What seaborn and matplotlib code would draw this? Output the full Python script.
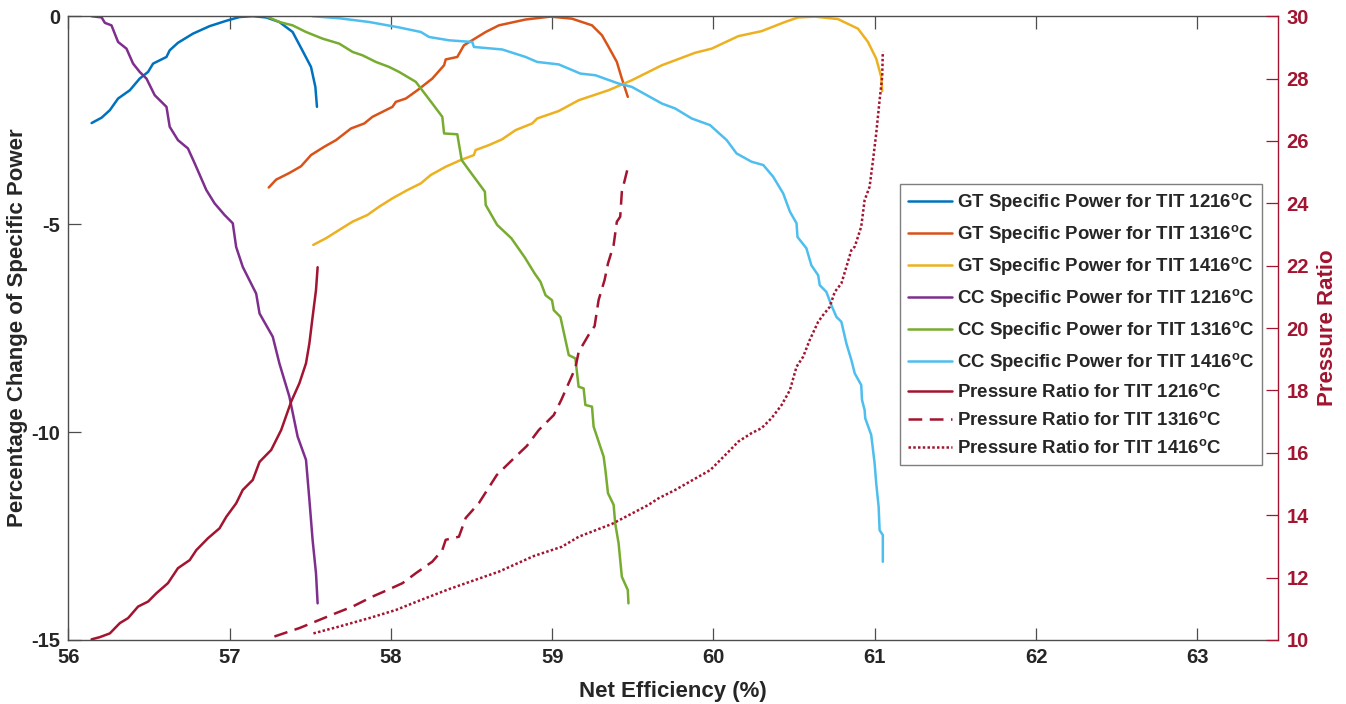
"""
Net efficiency vs. specific power change and pressure ratio for three TIT values.
"""

import seaborn as sns
import matplotlib.pyplot as plt

# ---------------- data ----------------
gt1216_eff = [56.145, 56.207, 56.258, 56.309, 56.382, 56.443, 56.495, 56.526, 56.609, 56.629,
              56.680, 56.773, 56.876, 56.980, 57.062, 57.144, 57.227, 57.309, 57.391, 57.451,
              57.505, 57.532, 57.542]
gt1216_pow = [-2.57, -2.44, -2.26, -1.98, -1.78, -1.50, -1.34, -1.14, -0.98, -0.82,
              -0.64, -0.42, -0.24, -0.11, -0.02, 0.0, -0.03, -0.14, -0.38, -0.82,
              -1.22, -1.70, -2.18]

gt1316_eff = [57.243, 57.289, 57.371, 57.443, 57.505, 57.587, 57.660, 57.753, 57.835, 57.886,
              58.010, 58.031, 58.093, 58.165, 58.257, 58.330, 58.340, 58.412, 58.453, 58.588,
              58.670, 58.835, 58.989, 59.123, 59.247, 59.309, 59.350, 59.401, 59.432, 59.469]
gt1316_pow = [-4.12, -3.93, -3.77, -3.61, -3.34, -3.14, -2.98, -2.70, -2.58, -2.42,
              -2.18, -2.06, -1.98, -1.78, -1.50, -1.18, -1.04, -0.98, -0.70, -0.38,
              -0.22, -0.08, -0.01, -0.06, -0.22, -0.46, -0.74, -1.10, -1.50, -1.94]

gt1416_eff = [57.519, 57.598, 57.680, 57.763, 57.855, 57.928, 58.010, 58.103, 58.186, 58.247,
              58.340, 58.433, 58.515, 58.525, 58.608, 58.690, 58.773, 58.876, 58.907, 59.041,
              59.165, 59.350, 59.422, 59.494, 59.680, 59.886, 59.989, 60.154, 60.298, 60.443,
              60.525, 60.628, 60.772, 60.896, 60.958, 61.009, 61.040, 61.046]
gt1416_pow = [-5.50, -5.34, -5.14, -4.94, -4.78, -4.58, -4.38, -4.18, -4.02, -3.82,
              -3.62, -3.46, -3.34, -3.22, -3.10, -2.96, -2.74, -2.58, -2.46, -2.28,
              -2.02, -1.78, -1.66, -1.54, -1.18, -0.88, -0.78, -0.48, -0.36, -0.14,
              -0.03, -0.01, -0.07, -0.30, -0.62, -1.02, -1.46, -1.80]

cc1216_eff = [56.145, 56.207, 56.227, 56.268, 56.309, 56.361, 56.402, 56.443, 56.485, 56.536,
              56.609, 56.629, 56.680, 56.742, 56.784, 56.856, 56.907, 56.969, 57.020, 57.041,
              57.082, 57.165, 57.186, 57.268, 57.309, 57.371, 57.422, 57.474, 57.495, 57.515,
              57.536, 57.546]
cc1216_pow = [0.0, -0.03, -0.16, -0.22, -0.62, -0.78, -1.14, -1.34, -1.50, -1.90,
              -2.18, -2.66, -2.98, -3.18, -3.54, -4.18, -4.50, -4.78, -4.98, -5.55,
              -6.03, -6.67, -7.15, -7.71, -8.35, -9.15, -10.11, -10.67, -11.63, -12.60,
              -13.40, -14.12]

cc1316_eff = [57.227, 57.309, 57.391, 57.474, 57.577, 57.680, 57.763, 57.824, 57.907, 57.989,
              58.051, 58.155, 58.257, 58.319, 58.330, 58.412, 58.439, 58.484, 58.583, 58.588,
              58.659, 58.747, 58.830, 58.892, 58.928, 58.959, 58.999, 59.010, 59.051, 59.103,
              59.144, 59.164, 59.195, 59.206, 59.247, 59.257, 59.319, 59.330, 59.346, 59.381,
              59.391, 59.412, 59.432, 59.469, 59.473]
cc1316_pow = [0.0, -0.14, -0.22, -0.38, -0.54, -0.66, -0.86, -0.94, -1.10, -1.22,
              -1.34, -1.58, -2.10, -2.42, -2.82, -2.84, -3.46, -3.70, -4.22, -4.54,
              -5.02, -5.34, -5.80, -6.19, -6.39, -6.71, -6.83, -7.07, -7.23, -8.15,
              -8.23, -8.91, -8.95, -9.35, -9.39, -9.87, -10.59, -10.91, -11.47, -11.75,
              -12.20, -12.68, -13.48, -13.80, -14.12]

cc1416_eff = [57.513, 57.680, 57.866, 58.051, 58.186, 58.237, 58.361, 58.505, 58.515, 58.690,
              58.835, 58.907, 59.041, 59.175, 59.268, 59.412, 59.494, 59.680, 59.763, 59.865,
              59.979, 60.082, 60.143, 60.236, 60.309, 60.370, 60.432, 60.474, 60.515, 60.521,
              60.576, 60.607, 60.649, 60.659, 60.700, 60.731, 60.762, 60.793, 60.824, 60.855,
              60.876, 60.916, 60.921, 60.937, 60.941, 60.978, 60.999, 61.009, 61.024, 61.030,
              61.050, 61.050]
cc1416_pow = [0.0, -0.05, -0.14, -0.27, -0.38, -0.50, -0.58, -0.62, -0.74, -0.80,
              -0.98, -1.10, -1.16, -1.38, -1.42, -1.62, -1.70, -2.10, -2.22, -2.46,
              -2.62, -2.98, -3.30, -3.50, -3.58, -3.86, -4.26, -4.70, -4.98, -5.31,
              -5.58, -5.99, -6.23, -6.47, -6.63, -6.95, -7.23, -7.35, -7.87, -8.27,
              -8.59, -8.87, -9.23, -9.47, -9.67, -10.07, -10.75, -11.23, -11.80, -12.36,
              -12.48, -13.12]

pr1216_eff = [56.145, 56.196, 56.258, 56.320, 56.371, 56.433, 56.495, 56.547, 56.618, 56.680,
              56.753, 56.794, 56.866, 56.938, 56.980, 57.041, 57.082, 57.144, 57.186, 57.258,
              57.320, 57.382, 57.433, 57.474, 57.495, 57.515, 57.536, 57.546]
pr1216_pr = [10.02, 10.09, 10.21, 10.54, 10.70, 11.07, 11.23, 11.50, 11.82, 12.30,
             12.56, 12.88, 13.26, 13.58, 13.95, 14.38, 14.81, 15.13, 15.71, 16.09,
             16.73, 17.64, 18.23, 18.87, 19.51, 20.36, 21.22, 21.95]

pr1316_eff = [57.278, 57.433, 57.556, 57.660, 57.763, 57.886, 57.979, 58.072, 58.155, 58.257,
              58.319, 58.340, 58.422, 58.464, 58.546, 58.657, 58.752, 58.843, 58.917, 59.010,
              59.056, 59.144, 59.164, 59.226, 59.263, 59.288, 59.325, 59.346, 59.381, 59.401,
              59.422, 59.432, 59.473]
pr1316_pr = [10.11, 10.38, 10.64, 10.86, 11.07, 11.39, 11.60, 11.82, 12.14, 12.51,
             12.88, 13.21, 13.31, 13.91, 14.39, 15.29, 15.77, 16.22, 16.73, 17.21,
             17.69, 18.72, 19.23, 19.78, 20.06, 20.90, 21.54, 22.07, 22.66, 23.41,
             23.57, 24.37, 25.22]

pr1416_eff = [57.520, 57.680, 57.866, 58.031, 58.186, 58.361, 58.515, 58.670, 58.886, 59.061,
              59.165, 59.371, 59.597, 59.659, 59.763, 59.981, 60.104, 60.154, 60.236, 60.298,
              60.360, 60.422, 60.474, 60.515, 60.556, 60.597, 60.649, 60.680, 60.721, 60.752,
              60.793, 60.824, 60.855, 60.876, 60.916, 60.937, 60.968, 60.989, 61.009, 61.030,
              61.046, 61.050]
pr1416_pr = [10.21, 10.43, 10.70, 10.96, 11.28, 11.63, 11.91, 12.19, 12.69, 12.99,
             13.31, 13.72, 14.33, 14.54, 14.81, 15.45, 16.09, 16.36, 16.63, 16.79,
             17.11, 17.53, 18.01, 18.76, 19.08, 19.62, 20.20, 20.42, 20.68, 21.16,
             21.43, 21.96, 22.50, 22.61, 23.25, 24.10, 24.53, 25.38, 26.24, 27.31,
             28.05, 28.86]

deg = r"$^{\mathrm{o}}$C"
power_series = [
    (gt1216_eff, gt1216_pow, "#0072BD", "GT Specific Power for TIT 1216" + deg),
    (gt1316_eff, gt1316_pow, "#D95319", "GT Specific Power for TIT 1316" + deg),
    (gt1416_eff, gt1416_pow, "#EDB120", "GT Specific Power for TIT 1416" + deg),
    (cc1216_eff, cc1216_pow, "#7E2F8E", "CC Specific Power for TIT 1216" + deg),
    (cc1316_eff, cc1316_pow, "#77AC30", "CC Specific Power for TIT 1316" + deg),
    (cc1416_eff, cc1416_pow, "#4DBEEE", "CC Specific Power for TIT 1416" + deg),
]
pr_color = "#A2142F"
pr_series = [
    (pr1216_eff, pr1216_pr, "-", "Pressure Ratio for TIT 1216" + deg),
    (pr1316_eff, pr1316_pr, (0, (5.5, 3)), "Pressure Ratio for TIT 1316" + deg),
    (pr1416_eff, pr1416_pr, (0, (1, 0.9)), "Pressure Ratio for TIT 1416" + deg),
]

# ---------------- style ----------------
sns.set_style("ticks")
plt.rcParams["font.family"] = ["Liberation Sans", "DejaVu Sans"]
plt.rcParams["font.weight"] = "bold"
plt.rcParams["axes.unicode_minus"] = False
plt.rcParams["mathtext.fontset"] = "custom"
plt.rcParams["mathtext.rm"] = "Liberation Sans:bold"
plt.rcParams["mathtext.bf"] = "Liberation Sans:bold"

fig, ax = plt.subplots(figsize=(13.46, 7.04), dpi=100)
fig.subplots_adjust(left=0.0507, right=0.9495, bottom=0.091, top=0.977)
ax2 = ax.twinx()

lw = 1.8
for eff, pw, col, lab in power_series:
    sns.lineplot(x=eff, y=pw, sort=False, estimator=None, color=col, lw=lw,
                 label=lab, ax=ax)
for eff, pr, ls, lab in pr_series:
    sns.lineplot(x=eff, y=pr, sort=False, estimator=None, color=pr_color, lw=lw,
                 linestyle=ls, label=lab, ax=ax2)

for a in (ax, ax2):
    if a.get_legend() is not None:
        a.get_legend().remove()

ax.set_xlim(56, 63.5)
ax.set_ylim(-15, 0)
ax2.set_ylim(10, 30)
ax.set_xticks(range(56, 64))
ax.set_yticks([-15, -10, -5, 0])
ax2.set_yticks(range(10, 31, 2))

axis_gray = "#4d4d4d"
for side in ("left", "bottom", "top"):
    ax.spines[side].set_color(axis_gray)
    ax.spines[side].set_linewidth(1.0)
ax.spines["right"].set_visible(False)
for side in ("left", "bottom", "top"):
    ax2.spines[side].set_visible(False)
ax2.spines["right"].set_color(pr_color)
ax2.spines["right"].set_linewidth(1.0)

ax.tick_params(axis="both", direction="in", length=9, width=0.9, color=axis_gray,
               labelsize=14.5, top=True, right=False, pad=6)
ax2.tick_params(axis="y", direction="in", length=9, width=0.9, colors=pr_color,
                labelsize=14.5, pad=6)
for t in ax2.get_yticklabels():
    t.set_fontweight("bold")

ax.set_xlabel("Net Efficiency (%)", fontsize=16, fontweight="bold", labelpad=10)
ax.set_ylabel("Percentage Change of Specific Power", fontsize=16, fontweight="bold",
              labelpad=2)
ax2.set_ylabel("Pressure Ratio", fontsize=16, fontweight="bold", color=pr_color,
               labelpad=6)

h1, l1 = ax.get_legend_handles_labels()
h2, l2 = ax2.get_legend_handles_labels()
leg = ax2.legend(h1 + h2, l1 + l2, loc="center right", bbox_to_anchor=(0.987, 0.506),
                 fontsize=13.4, frameon=True, fancybox=False, framealpha=1,
                 edgecolor="#7f7f7f", handlelength=2.4, handletextpad=0.25,
                 labelspacing=0.5, borderpad=0.4, borderaxespad=0)
leg.get_frame().set_linewidth(1.0)

plt.savefig("out.png", dpi=100)
